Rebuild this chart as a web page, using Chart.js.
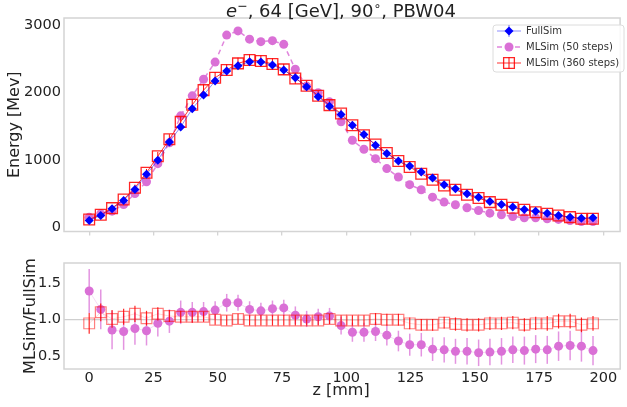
<!DOCTYPE html>
<html>
<head>
<meta charset="utf-8">
<script src="https://cdn.jsdelivr.net/npm/chart.js@4.4.1/dist/chart.umd.min.js"></script>
<style>
html, body { margin: 0; padding: 0; background: #fff; }
#wrap { position: relative; width: 627px; height: 407px; }
canvas { position: absolute; left: 0; }
#topChart { top: 0; }
#ratioChart { top: 245px; }
</style>
</head>
<body>
<div id="wrap">
<canvas id="topChart" width="627" height="245"></canvas>
<canvas id="ratioChart" width="627" height="162"></canvas>
</div>
<script>
// layer depth z [mm]
const zValues = [0, 4.5, 8.9, 13.4, 17.8, 22.3, 26.7, 31.2, 35.6, 40.1, 44.5, 49, 53.5, 57.9, 62.4,
    66.8, 71.3, 75.7, 80.2, 84.6, 89.1, 93.5, 98, 102.4, 106.9, 111.4, 115.8, 120.3, 124.7, 129.2,
    133.6, 138.1, 142.5, 147, 151.5, 155.9, 160.4, 164.8, 169.3, 173.7, 178.2, 182.6, 187.1, 191.5, 196];

// energy per layer [MeV]
const fullSim = [100, 174, 274, 397, 561, 784, 993, 1265, 1488, 1756, 1960, 2168, 2317, 2396, 2455,
    2450, 2406, 2332, 2217, 2083, 1935, 1796, 1672, 1513, 1375, 1216, 1092, 982, 908, 818,
    729, 631, 571, 497, 446, 382, 338, 298, 263, 238, 208, 174, 149, 134, 140];
const fullSimErr = [10, 12, 15, 18, 22, 25, 28, 32, 34, 36, 38, 38, 38, 38, 38,
    38, 38, 37, 36, 35, 34, 33, 32, 30, 29, 28, 27, 26, 25, 24,
    23, 22, 21, 20, 19, 18, 17, 16, 15, 14, 13, 12, 12, 11, 11];
const mlSim50 = [149, 200, 238, 337, 499, 674, 943, 1252, 1652, 1949, 2195, 2450, 2850, 2912, 2790,
    2753, 2768, 2713, 2345, 2094, 1994, 1860, 1563, 1290, 1156, 1017, 869, 744, 631, 556,
    446, 372, 333, 289, 248, 208, 184, 159, 140, 140, 125, 115, 100, 85, 85];
const mlSim360 = [115, 184, 283, 412, 586, 809, 1052, 1305, 1563, 1816, 2034, 2217, 2332, 2431, 2480,
    2466, 2421, 2342, 2207, 2098, 1950, 1811, 1687, 1513, 1365, 1226, 1101, 982, 893, 794,
    705, 620, 556, 482, 432, 372, 333, 289, 259, 223, 199, 174, 149, 125, 125];
const mlSim360Err = [20, 25, 30, 35, 45, 55, 65, 75, 80, 85, 85, 85, 85, 85, 85,
    85, 85, 80, 80, 75, 75, 70, 65, 60, 55, 50, 45, 40, 38, 35,
    32, 30, 28, 26, 24, 22, 20, 19, 18, 17, 16, 15, 14, 13, 13];

// ratios MLSim / FullSim
const ratio50 = [1.39, 1.14, 0.86, 0.84, 0.88, 0.85, 0.95, 0.98, 1.10, 1.10, 1.11, 1.13, 1.23, 1.23, 1.14,
    1.12, 1.15, 1.16, 1.06, 1.01, 1.04, 1.05, 0.92, 0.83, 0.83, 0.84, 0.79, 0.71, 0.66, 0.66,
    0.60, 0.59, 0.57, 0.57, 0.55, 0.56, 0.57, 0.59, 0.58, 0.60, 0.59, 0.64, 0.65, 0.64, 0.58];
const ratio50Err = [0.30, 0.27, 0.26, 0.25, 0.22, 0.20, 0.18, 0.16, 0.16, 0.14, 0.13, 0.12, 0.12, 0.11, 0.11,
    0.11, 0.11, 0.11, 0.12, 0.11, 0.11, 0.11, 0.12, 0.13, 0.13, 0.13, 0.14, 0.14, 0.15, 0.16,
    0.16, 0.17, 0.17, 0.18, 0.18, 0.18, 0.18, 0.18, 0.19, 0.19, 0.19, 0.20, 0.20, 0.21, 0.20];
const ratio360 = [0.95, 1.10, 1.01, 1.04, 1.08, 1.02, 1.08, 1.05, 1.04, 1.04, 1.04, 1.00, 0.99, 1.01, 0.99,
    0.99, 0.99, 0.99, 0.99, 0.99, 0.99, 1.01, 0.99, 0.99, 0.99, 1.01, 1.00, 1.00, 0.95, 0.93,
    0.93, 0.96, 0.94, 0.93, 0.93, 0.95, 0.95, 0.96, 0.93, 0.95, 0.95, 0.98, 0.98, 0.93, 0.95];
const ratio360Err = [0.14, 0.12, 0.12, 0.11, 0.11, 0.10, 0.09, 0.08, 0.08, 0.08, 0.07, 0.07, 0.07, 0.07, 0.07,
    0.07, 0.07, 0.07, 0.07, 0.07, 0.07, 0.07, 0.07, 0.07, 0.07, 0.08, 0.08, 0.08, 0.08, 0.08,
    0.08, 0.08, 0.09, 0.09, 0.09, 0.09, 0.09, 0.09, 0.09, 0.09, 0.10, 0.10, 0.10, 0.10, 0.10];

const zTicks = [0, 25, 50, 75, 100, 125, 150, 175, 200];
const energyTicks = [0, 1000, 2000, 3000];
const ratioTicks = [0.5, 1.0, 1.5];

const seriesNames = ['FullSim', 'MLSim (50 steps)', 'MLSim (360 steps)'];

const FONT = "'DejaVu Sans', sans-serif";
const FRAME = '#d4d4d4';
const TEXT = '#222';
const BLUE = '#0000ff';
const ORCHID = '#da70d6';
const RED = '#ff0000';

Chart.defaults.font.family = FONT;
Chart.defaults.color = TEXT;

function points(ys) {
    return zValues.map((z, i) => ({ x: z, y: ys[i] }));
}

function fixedTicks(values) {
    return function(scale) {
        scale.ticks = values.map(v => ({ value: v }));
    };
}

// vertical error bars, drawn right after their own dataset
const errorBars = {
    id: 'errorBars',
    afterDatasetDraw(chart, args) {
        const ds = chart.data.datasets[args.index];
        if (!ds.errors) return;
        const yScale = chart.scales[args.meta.yAxisID];
        const ctx = chart.ctx;
        ctx.save();
        ctx.strokeStyle = ds.errorColor;
        ctx.lineWidth = ds.errorWidth;
        ds.data.forEach((p, i) => {
            const x = args.meta.data[i].x;
            ctx.beginPath();
            ctx.moveTo(x, yScale.getPixelForValue(p.y - ds.errors[i]));
            ctx.lineTo(x, yScale.getPixelForValue(p.y + ds.errors[i]));
            ctx.stroke();
        });
        ctx.restore();
    }
};

// top + left + bottom frame
const frame = {
    id: 'frame',
    beforeDatasetsDraw(chart) {
        const a = chart.chartArea;
        const ctx = chart.ctx;
        ctx.save();
        ctx.strokeStyle = FRAME;
        ctx.lineWidth = 1.5;
        ctx.strokeRect(a.left, a.top, a.right - a.left + 2, a.bottom - a.top);
        ctx.restore();
    }
};

// title with math-style e^- and degree sign
const mathTitle = {
    id: 'mathTitle',
    afterDraw(chart) {
        const ctx = chart.ctx;
        const a = chart.chartArea;
        const parts = [
            { t: 'e', f: 'italic 18px ' + FONT, dy: 0 },
            { t: '\u2212', f: '12.5px ' + FONT, dy: -7 },
            { t: ', 64 [GeV], 90', f: '18px ' + FONT, dy: 0 },
            { t: '\u2218', f: '12.5px ' + FONT, dy: -7 },
            { t: ', PBW04', f: '18px ' + FONT, dy: 0 }
        ];
        ctx.save();
        let total = 0;
        parts.forEach(p => { ctx.font = p.f; p.w = ctx.measureText(p.t).width; total += p.w; });
        let x = (a.left + a.right) / 2 - total / 2;
        const base = 16.5;
        ctx.fillStyle = TEXT;
        ctx.textAlign = 'left';
        ctx.textBaseline = 'alphabetic';
        parts.forEach(p => {
            ctx.font = p.f;
            ctx.fillText(p.t, x, base + p.dy);
            x += p.w;
        });
        ctx.restore();
    }
};

// boxed legend in the upper right corner
const boxLegend = {
    id: 'boxLegend',
    afterDraw(chart) {
        const ctx = chart.ctx;
        const box = { x: 493, y: 25, w: 131, h: 47 };
        ctx.save();
        ctx.fillStyle = 'rgba(255,255,255,0.85)';
        ctx.strokeStyle = '#dcdcdc';
        ctx.lineWidth = 1;
        ctx.beginPath();
        ctx.roundRect(box.x, box.y, box.w, box.h, 3);
        ctx.fill();
        ctx.stroke();

        const mx = 509;
        const rows = [31, 47, 63];
        chart.data.datasets.forEach((ds, i) => {
            const y = rows[i];
            ctx.save();
            ctx.strokeStyle = ds.borderColor;
            ctx.lineWidth = ds.borderWidth;
            ctx.setLineDash(ds.borderDash || []);
            ctx.beginPath();
            ctx.moveTo(497, y);
            ctx.lineTo(521, y);
            ctx.stroke();
            ctx.restore();
            if (ds.errors) {
                ctx.strokeStyle = ds.errorColor;
                ctx.lineWidth = ds.errorWidth;
                ctx.beginPath();
                ctx.moveTo(mx, y - 6);
                ctx.lineTo(mx, y + 6);
                ctx.stroke();
            }
            ctx.fillStyle = ds.pointBackgroundColor;
            ctx.strokeStyle = ds.pointBorderColor;
            ctx.lineWidth = ds.pointBorderWidth;
            Chart.helpers.drawPoint(ctx, {
                pointStyle: ds.pointStyle,
                radius: ds.pointRadius,
                rotation: 0,
                borderWidth: ds.pointBorderWidth
            }, mx, y);
            ctx.fillStyle = '#333';
            ctx.font = '10px ' + FONT;
            ctx.textAlign = 'left';
            ctx.textBaseline = 'middle';
            ctx.fillText(seriesNames[i], 526, y + 0.5);
        });
        ctx.restore();
    }
};

const xScaleBase = {
    type: 'linear',
    min: -9.8,
    max: 205.8,
    afterBuildTicks: fixedTicks(zTicks),
    border: { display: false }
};

// top panel: energy profile
new Chart(document.getElementById('topChart'), {
    type: 'line',
    data: {
        datasets: [
            {
                label: seriesNames[0],
                data: points(fullSim),
                borderColor: 'rgba(0,0,255,0.45)',
                borderWidth: 1,
                pointStyle: 'rectRot',
                pointRadius: 4.5,
                pointBackgroundColor: BLUE,
                pointBorderColor: BLUE,
                pointBorderWidth: 0,
                errors: fullSimErr,
                errorColor: 'rgba(0,0,255,0.5)',
                errorWidth: 1,
                order: 0
            },
            {
                label: seriesNames[1],
                data: points(mlSim50),
                borderColor: 'rgba(218,112,214,0.85)',
                borderWidth: 1.5,
                borderDash: [5, 4],
                pointStyle: 'circle',
                pointRadius: 4.5,
                pointBackgroundColor: ORCHID,
                pointBorderColor: ORCHID,
                pointBorderWidth: 0,
                order: 2
            },
            {
                label: seriesNames[2],
                data: points(mlSim360),
                borderColor: 'rgba(255,0,0,0.8)',
                borderWidth: 1,
                pointStyle: 'rect',
                pointRadius: 7.6,
                pointBackgroundColor: 'rgba(0,0,0,0)',
                pointBorderColor: 'rgba(255,0,0,0.85)',
                pointBorderWidth: 1.3,
                errors: mlSim360Err,
                errorColor: RED,
                errorWidth: 1,
                order: 1
            }
        ]
    },
    options: {
        responsive: false,
        animation: false,
        layout: { padding: { top: 18, left: 0, right: 0, bottom: 0 } },
        plugins: { legend: { display: false }, title: { display: false }, tooltip: { enabled: false } },
        scales: {
            x: Object.assign({}, xScaleBase, {
                ticks: { display: false },
                grid: { drawOnChartArea: false, drawTicks: true, tickLength: 4, color: FRAME, lineWidth: 1.3 },
                afterFit(scale) { scale.height = 13.5; }
            }),
            y: {
                type: 'linear',
                min: -64,
                max: 3104,
                afterBuildTicks: fixedTicks(energyTicks),
                border: { display: false },
                grid: { display: false, drawTicks: false },
                ticks: { font: { size: 14.5 }, color: TEXT, padding: 3, callback: v => String(v) },
                title: { display: true, text: 'Energy [Mev]', font: { size: 16 }, color: TEXT, padding: { top: 5, bottom: 0 } },
                afterFit(scale) { scale.width = 64; }
            }
        }
    },
    plugins: [frame, errorBars, mathTitle, boxLegend]
});

// bottom panel: ratio to FullSim
new Chart(document.getElementById('ratioChart'), {
    type: 'line',
    data: {
        datasets: [
            {
                label: seriesNames[1],
                data: points(ratio50),
                borderColor: 'rgba(218,112,214,0.25)',
                borderWidth: 1,
                pointStyle: 'circle',
                pointRadius: 4.5,
                pointBackgroundColor: ORCHID,
                pointBorderColor: ORCHID,
                pointBorderWidth: 0,
                errors: ratio50Err,
                errorColor: 'rgba(218,112,214,0.75)',
                errorWidth: 1.5,
                order: 1
            },
            {
                label: seriesNames[2],
                data: points(ratio360),
                borderColor: 'rgba(255,0,0,0.15)',
                borderWidth: 1,
                pointStyle: 'rect',
                pointRadius: 7.6,
                pointBackgroundColor: 'rgba(0,0,0,0)',
                pointBorderColor: 'rgba(255,0,0,0.5)',
                pointBorderWidth: 1.2,
                errors: ratio360Err,
                errorColor: 'rgba(255,0,0,0.85)',
                errorWidth: 1.2,
                order: 0
            }
        ]
    },
    options: {
        responsive: false,
        animation: false,
        layout: { padding: { top: 18, left: 0, right: 0, bottom: 0 } },
        plugins: { legend: { display: false }, title: { display: false }, tooltip: { enabled: false } },
        scales: {
            x: Object.assign({}, xScaleBase, {
                ticks: { font: { size: 14.5 }, color: TEXT, padding: 1, maxRotation: 0, autoSkip: false },
                grid: { drawOnChartArea: false, drawTicks: false },
                title: { display: true, text: 'z [mm]', font: { size: 16 }, color: TEXT, padding: { top: 0, bottom: 7 } },
                afterFit(scale) { scale.height = 38; }
            }),
            y: {
                type: 'linear',
                min: 0.33,
                max: 1.77,
                afterBuildTicks: fixedTicks(ratioTicks),
                border: { display: false },
                grid: {
                    drawTicks: false,
                    color: ctx => (ctx.tick && ctx.tick.value === 1 ? '#cfcfcf' : 'rgba(0,0,0,0)'),
                    lineWidth: 1.3
                },
                ticks: { font: { size: 14.5 }, color: TEXT, padding: 3, callback: v => v.toFixed(1) },
                title: { display: true, text: 'MLSim/FullSim', font: { size: 16 }, color: TEXT, padding: { top: 21, bottom: 0 } },
                afterFit(scale) { scale.width = 64; }
            }
        }
    },
    plugins: [frame, errorBars]
});
</script>
</body>
</html>
